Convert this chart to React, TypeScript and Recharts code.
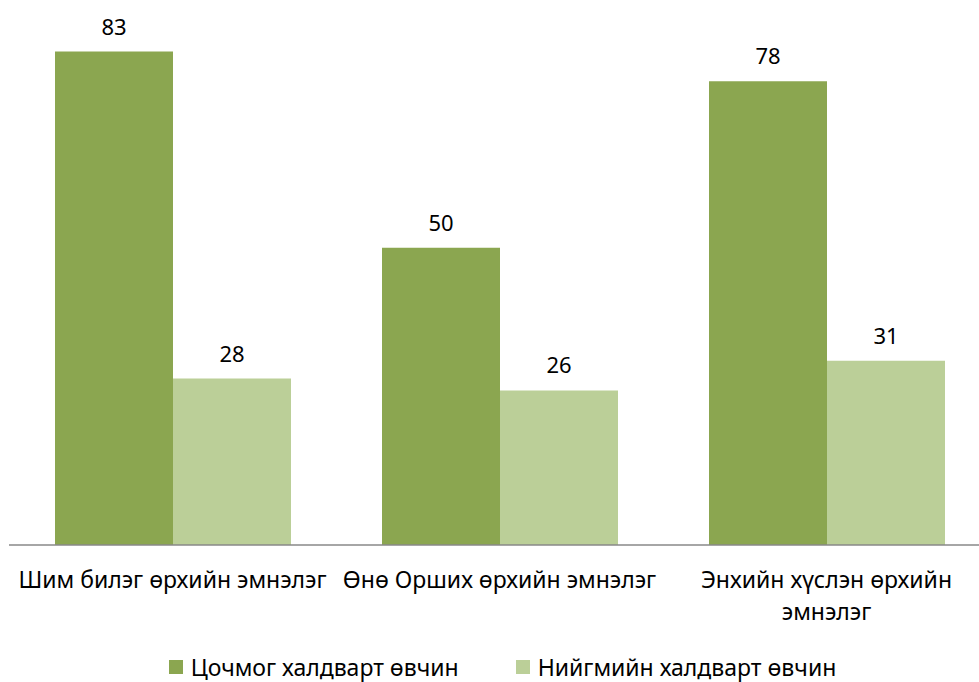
import React from "react";
import {
  BarChart,
  Bar,
  XAxis,
  YAxis,
  Legend,
  LabelList,
} from "recharts";

const categories = [
  "Шим билэг өрхийн эмнэлэг",
  "Өнө Орших өрхийн эмнэлэг",
  "Энхийн хүслэн өрхийн эмнэлэг",
];
const acuteValues = [83, 50, 78];
const socialValues = [28, 26, 31];
const seriesNames = ["Цочмог халдварт өвчин", "Нийгмийн халдварт өвчин"];
const COLORS = ["#8BA650", "#BBCF98"];

const data = categories.map((name, i) => ({
  name,
  acute: acuteValues[i],
  social: socialValues[i],
}));

const FONT = "'Noto Sans', sans-serif";

// wrap long category names into two lines
const wrapLabel = (text: string, max = 26) => {
  if (text.length <= max) return [text];
  const cut = text.lastIndexOf(" ", max);
  return [text.slice(0, cut), text.slice(cut + 1)];
};

const CategoryTick = ({ x, y, payload }: any) => {
  const lines = wrapLabel(payload.value);
  return (
    <text
      x={x}
      y={y + 43}
      textAnchor="middle"
      fill="#000"
      fontSize={23}
      fontFamily={FONT}
    >
      {lines.map((l, i) => (
        <tspan key={i} x={x} dy={i === 0 ? 0 : 32}>
          {l}
        </tspan>
      ))}
    </text>
  );
};

const renderLegend = () => (
  <div
    style={{
      height: 30,
      display: "flex",
      justifyContent: "center",
      alignItems: "center",
      gap: 57,
      fontFamily: FONT,
      fontSize: 23,
      color: "#000",
      paddingLeft: 6,
    }}
  >
    {seriesNames.map((n, i) => (
      <div key={n} style={{ display: "flex", alignItems: "center", gap: 8 }}>
        <span
          style={{
            display: "inline-block",
            width: 14,
            height: 14,
            backgroundColor: COLORS[i],
          }}
        />
        <span>{n}</span>
      </div>
    ))}
  </div>
);

export default function App() {
  return (
    <div
      style={{
        position: "absolute",
        left: 0,
        top: 0,
        width: 979,
        height: 682,
        overflow: "hidden",
        background: "#fff",
      }}
    >
      <BarChart
        width={1000}
        height={682}
        data={data}
        margin={{ top: 10, right: 10, bottom: 0, left: 9 }}
        barGap={0}
      >
        <XAxis
          dataKey="name"
          axisLine={{ stroke: "#898989", strokeWidth: 1.5 }}
          tickLine={false}
          tickSize={0}
          tickMargin={0}
          height={107}
          interval={0}
          tick={<CategoryTick />}
        />
        <YAxis hide domain={[0, 90]} />
        <Legend verticalAlign="bottom" content={renderLegend} />
        <Bar dataKey="acute" fill={COLORS[0]} barSize={118} isAnimationActive={false}>
          <LabelList
            dataKey="acute"
            position="top"
            offset={17}
            fill="#000"
            fontSize={22}
            fontFamily={FONT}
          />
        </Bar>
        <Bar dataKey="social" fill={COLORS[1]} barSize={118} isAnimationActive={false}>
          <LabelList
            dataKey="social"
            position="top"
            offset={17}
            fill="#000"
            fontSize={22}
            fontFamily={FONT}
          />
        </Bar>
      </BarChart>
    </div>
  );
}
